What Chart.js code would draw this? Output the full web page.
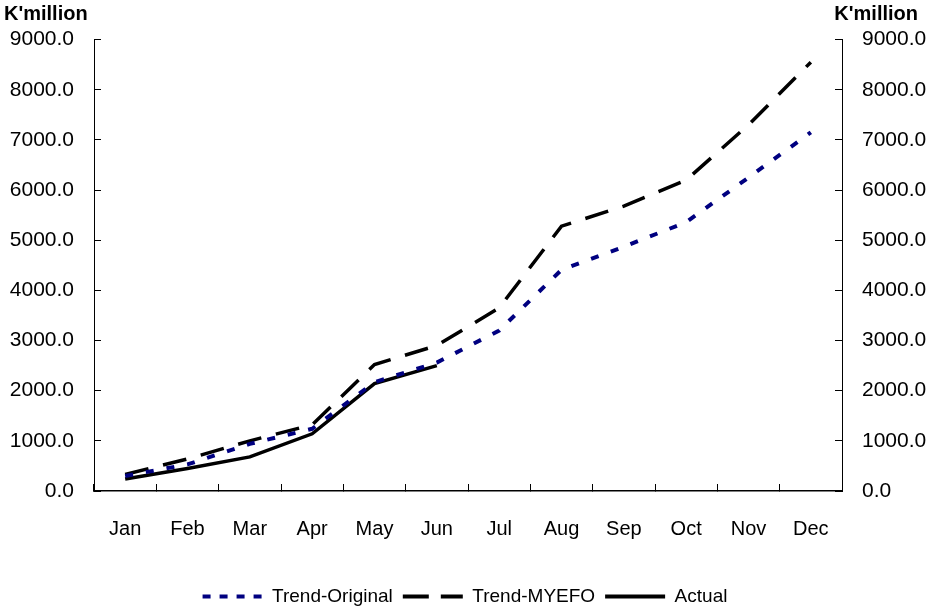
<!DOCTYPE html>
<html>
<head>
<meta charset="utf-8">
<script src="https://cdn.jsdelivr.net/npm/chart.js@4"></script>
<style>
  html, body { margin: 0; padding: 0; background: #fff; }
  #wrap { width: 930px; height: 609px; }
</style>
</head>
<body>
<div id="wrap"><canvas id="trendChart"></canvas></div>
<script>
const months = ["Jan", "Feb", "Mar", "Apr", "May", "Jun", "Jul", "Aug", "Sep", "Oct", "Nov", "Dec"];
const trendOriginal = [300, 530, 940, 1240, 2170, 2560, 3200, 4410, 4870, 5360, 6250, 7150];
const trendMyefo = [330, 640, 1000, 1320, 2520, 2900, 3650, 5280, 5680, 6200, 7300, 8550];
const actual = [240, 450, 680, 1140, 2140, 2500, null, null, null, null, null, null];
const unitLabel = "K'million";

const FONT = "'Liberation Sans', Arial, sans-serif";

// draws the K'million headers above both axes
const unitTitles = {
  id: "unitTitles",
  afterDraw(chart) {
    const ctx = chart.ctx;
    ctx.save();
    ctx.font = "bold 20px " + FONT;
    ctx.fillStyle = "#000";
    ctx.textBaseline = "middle";
    ctx.textAlign = "left";
    ctx.fillText(unitLabel, 4, 14);
    ctx.textAlign = "right";
    ctx.fillText(unitLabel, 918, 14);
    ctx.restore();
  },
};

const yTicks = {
  color: "#000",
  font: { family: FONT, size: 21 },
  stepSize: 1000,
  padding: 27,
  callback: (v) => Number(v).toFixed(1),
};

// legend sample dash patterns (legend only)
const legendDash = [[8, 9], [26, 12], []];

const chart = new Chart(document.getElementById("trendChart"), {
  type: "line",
  data: {
    labels: months,
    datasets: [
      {
        label: "Trend-Original",
        data: trendOriginal,
        borderColor: "#000080",
        backgroundColor: "#000080",
        borderWidth: 4,
        borderDash: [8, 13],
        borderCapStyle: "butt",
        pointRadius: 0,
        tension: 0,
        yAxisID: "y",
      },
      {
        label: "Trend-MYEFO",
        data: trendMyefo,
        borderColor: "#000",
        backgroundColor: "#000",
        borderWidth: 3.5,
        borderDash: [24, 15],
        borderCapStyle: "butt",
        pointRadius: 0,
        tension: 0,
        yAxisID: "y",
      },
      {
        label: "Actual",
        data: actual,
        borderColor: "#000",
        backgroundColor: "#000",
        borderWidth: 3.5,
        pointRadius: 0,
        tension: 0,
        spanGaps: false,
        yAxisID: "y",
      },
    ],
  },
  options: {
    responsive: true,
    maintainAspectRatio: false,
    animation: false,
    layout: { padding: { top: 30, left: 0, right: 0, bottom: -7 } },
    plugins: {
      tooltip: { enabled: false },
      legend: {
        position: "bottom",
        labels: {
          color: "#000",
          font: { family: FONT, size: 19 },
          usePointStyle: true,
          pointStyle: "line",
          pointStyleWidth: 60,
          boxHeight: 19,
          padding: 10,
          generateLabels(chart) {
            return chart.data.datasets.map((ds, i) => ({
              text: ds.label,
              datasetIndex: i,
              fillStyle: ds.borderColor,
              strokeStyle: ds.borderColor,
              fontColor: "#000",
              lineWidth: 4,
              lineDash: legendDash[i],
              lineCap: "butt",
              pointStyle: "line",
              hidden: false,
            }));
          },
        },
      },
    },
    scales: {
      x: {
        offset: true,
        grid: { offset: true, drawOnChartArea: false, tickLength: -7, color: "#000", lineWidth: 1 },
        border: { color: "#000", width: 1.5 },
        ticks: { color: "#000", font: { family: FONT, size: 20 }, padding: 33, maxRotation: 0 },
        afterFit(scale) { scale.height = 86; },
      },
      y: {
        position: "left",
        min: 0,
        max: 9000,
        grid: { drawOnChartArea: false, tickLength: -7, color: "#000" },
        border: { color: "#000", width: 1 },
        ticks: yTicks,
        afterFit(scale) { scale.width = 94; },
      },
      y2: {
        position: "right",
        min: 0,
        max: 9000,
        grid: { drawOnChartArea: false, tickLength: -7, color: "#000" },
        border: { color: "#000", width: 1 },
        ticks: yTicks,
        afterFit(scale) { scale.width = 88; },
      },
    },
  },
  plugins: [unitTitles],
});
</script>
</body>
</html>
